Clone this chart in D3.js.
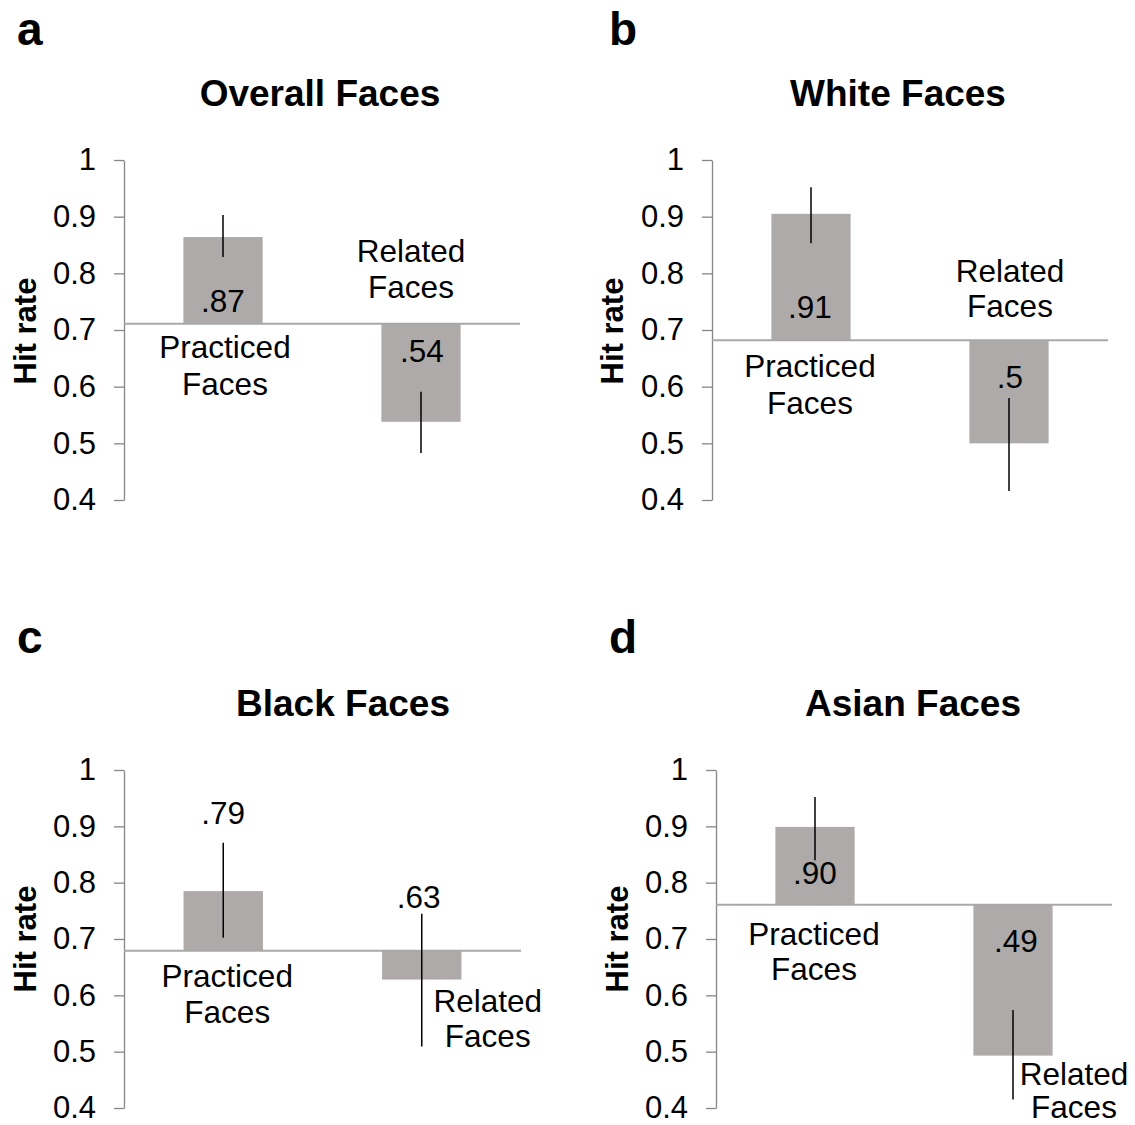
<!DOCTYPE html>
<html>
<head>
<meta charset="utf-8">
<script src="https://cdn.jsdelivr.net/npm/d3@7"></script>
<style>
  html, body { margin: 0; padding: 0; background: #fff; }
  svg text { font-family: "Liberation Sans", Arial, sans-serif; fill: #000; }
</style>
</head>
<body>
<svg id="chart" width="1135" height="1125"></svg>
<script>
// ---------- data ----------
const panelLetters = ["a", "b", "c", "d"];
const panelTitles = ["Overall Faces", "White Faces", "Black Faces", "Asian Faces"];
const categories = ["Practiced Faces", "Related Faces"];
const baselines = [0.711, 0.682, 0.679, 0.761];
const practicedValues = [0.864, 0.905, 0.785, 0.899];
const relatedValues = [0.538, 0.500, 0.628, 0.493];
const practicedErrLow = [0.829, 0.853, 0.702, 0.840];
const practicedErrHigh = [0.903, 0.952, 0.871, 0.952];
const relatedErrLow = [0.483, 0.416, 0.509, 0.415];
const relatedErrHigh = [0.591, 0.580, 0.745, 0.574];
const practicedLabels = [".87", ".91", ".79", ".90"];
const relatedLabels = [".54", ".5", ".63", ".49"];
const tickValues = [0.4, 0.5, 0.6, 0.7, 0.8, 0.9, 1];
const tickLabels = ["0.4", "0.5", "0.6", "0.7", "0.8", "0.9", "1"];
const yDomain = [0.4, 1];
const yAxisTitle = "Hit rate";

// ---------- layout ----------
const layout = [
  { x0: 124, x1: 520, yTop: 160, yBot: 500, letterX: 17, letterY: 45, titleX: 320, titleY: 106, hitX: 36, hitY: 331,
    pLab: 312, rLab: 362, pCat: [358, 395], rCat: [262, 298], pCatDx: 2, rCatDx: -10, pLabDx: 0, rLabDx: 1 },
  { x0: 712, x1: 1108, yTop: 160, yBot: 500, letterX: 609, letterY: 45, titleX: 898, titleY: 106, hitX: 623, hitY: 331,
    pLab: 318, rLab: 388, pCat: [377, 414], rCat: [282, 317], pCatDx: -1, rCatDx: 1, pLabDx: -1, rLabDx: 1 },
  { x0: 124, x1: 521, yTop: 770, yBot: 1108, letterX: 17, letterY: 653, titleX: 343, titleY: 716, hitX: 36, hitY: 939,
    pLab: 824, rLab: 908, pCat: [987, 1023], rCat: [1012, 1047], pCatDx: 4, rCatDx: 66, pLabDx: 0, rLabDx: -3 },
  { x0: 716, x1: 1112, yTop: 770, yBot: 1108, letterX: 609, letterY: 653, titleX: 913, titleY: 716, hitX: 628, hitY: 939,
    pLab: 884, rLab: 952, pCat: [945, 980], rCat: [1085, 1118], pCatDx: -1, rCatDx: 61, pLabDx: 0, rLabDx: 3 }
];

const svg = d3.select("#chart");
const barColor = "#AEAAAA";
const axisColor = "#868686";
const baseColor = "#A8A8A8";

panelLetters.forEach((letter, i) => {
  const L = layout[i];
  const g = svg.append("g");

  const y = d3.scaleLinear().domain(yDomain).range([L.yBot, L.yTop]);
  const x = d3.scaleBand().domain(categories).range([L.x0, L.x1]).paddingInner(0.6).paddingOuter(0.3);

  // y axis
  const axis = d3.axisLeft(y).tickValues(tickValues)
    .tickFormat((d, k) => tickLabels[k]).tickSize(10).tickPadding(18).tickSizeOuter(0);
  const ag = g.append("g").attr("transform", `translate(${L.x0},0)`).call(axis);
  ag.select(".domain").attr("stroke", axisColor).attr("stroke-width", 1.3);
  ag.selectAll(".tick line").attr("stroke", axisColor).attr("stroke-width", 1.3);
  ag.selectAll(".tick text").attr("font-size", 31).attr("fill", "#000")
    .style("font-family", "'Liberation Sans', Arial, sans-serif");

  const rows = [
    { cat: categories[0], v: practicedValues[i], lo: practicedErrLow[i], hi: practicedErrHigh[i], lab: practicedLabels[i], labY: L.pLab, labDx: L.pLabDx, catY: L.pCat, catDx: L.pCatDx },
    { cat: categories[1], v: relatedValues[i], lo: relatedErrLow[i], hi: relatedErrHigh[i], lab: relatedLabels[i], labY: L.rLab, labDx: L.rLabDx, catY: L.rCat, catDx: L.rCatDx }
  ];
  const base = baselines[i];

  // bars from baseline
  g.selectAll("rect.bar").data(rows).join("rect")
    .attr("class", "bar")
    .attr("x", d => x(d.cat))
    .attr("width", x.bandwidth())
    .attr("y", d => y(Math.max(d.v, base)))
    .attr("height", d => Math.abs(y(d.v) - y(base)))
    .attr("fill", barColor);

  // baseline line
  g.append("line")
    .attr("x1", L.x0).attr("x2", L.x1)
    .attr("y1", y(base)).attr("y2", y(base))
    .attr("stroke", baseColor).attr("stroke-width", 2);

  // error bars
  g.selectAll("line.err").data(rows).join("line")
    .attr("class", "err")
    .attr("x1", d => x(d.cat) + x.bandwidth() / 2)
    .attr("x2", d => x(d.cat) + x.bandwidth() / 2)
    .attr("y1", d => y(d.hi)).attr("y2", d => y(d.lo))
    .attr("stroke", "#000").attr("stroke-width", 1.5);

  // value labels
  g.selectAll("text.val").data(rows).join("text")
    .attr("class", "val")
    .attr("x", d => x(d.cat) + x.bandwidth() / 2 + d.labDx)
    .attr("y", d => d.labY)
    .attr("text-anchor", "middle").attr("font-size", 31.5)
    .text(d => d.lab);

  // category labels (two lines)
  rows.forEach(d => {
    const words = d.cat.split(" ");
    words.forEach((w, k) => {
      g.append("text")
        .attr("x", x(d.cat) + x.bandwidth() / 2 + d.catDx)
        .attr("y", d.catY[k])
        .attr("text-anchor", "middle").attr("font-size", 31.5)
        .text(w);
    });
  });

  // title
  g.append("text").attr("x", L.titleX).attr("y", L.titleY)
    .attr("text-anchor", "middle").attr("font-size", 37).attr("font-weight", "bold")
    .text(panelTitles[i]);

  // panel letter
  g.append("text").attr("x", L.letterX).attr("y", L.letterY)
    .attr("font-size", 46).attr("font-weight", "bold")
    .text(letter);

  // y axis title
  g.append("text")
    .attr("transform", `translate(${L.hitX},${L.hitY}) rotate(-90)`)
    .attr("text-anchor", "middle").attr("font-size", 31).attr("font-weight", "bold")
    .text(yAxisTitle);
});
</script>
</body>
</html>
